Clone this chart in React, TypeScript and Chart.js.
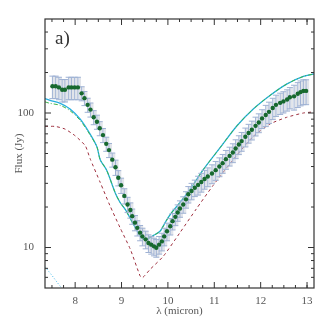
import React, { useEffect, useRef } from "react";
import { Chart, registerables } from "chart.js";

Chart.register(...registerables);

// Observed spectrum (micron, Jy) and relative errors
const obsWave = [
  7.51, 7.58, 7.65, 7.72, 7.78, 7.86, 7.92, 7.99, 8.06, 8.14,
  8.2, 8.27, 8.33, 8.4, 8.47, 8.53, 8.6, 8.67, 8.73, 8.8,
  8.87, 8.93, 8.99, 9.06, 9.13, 9.19, 9.23, 9.29, 9.34, 9.4,
  9.45, 9.52, 9.58, 9.64, 9.7, 9.75, 9.81, 9.87, 9.92, 9.98,
  10.05, 10.1, 10.16, 10.21, 10.26, 10.33, 10.39, 10.44, 10.51, 10.58,
  10.65, 10.72, 10.79, 10.86, 10.95, 11.03, 11.11, 11.18, 11.25, 11.33,
  11.4, 11.46, 11.53, 11.59, 11.67, 11.74, 11.81, 11.89, 11.96, 12.03,
  12.11, 12.18, 12.26, 12.33, 12.42, 12.49, 12.57, 12.63, 12.72, 12.8,
  12.86, 12.92, 12.98,
];
const obsFlux = [
  158, 158, 155, 149, 149, 155, 155, 155, 155, 140,
  129, 115, 106, 93, 86, 77, 68.5, 59, 53, 45,
  39.5, 33, 29, 24.2, 20.9, 19.0, 17.1, 15.3, 14.0, 12.9,
  12.1, 11.5, 10.8, 10.5, 10.2, 9.96, 10.5, 11.1, 12.1, 13.2,
  14.4, 15.7, 16.9, 18.2, 19.5, 20.9, 22.8, 24.9, 26.3, 27.8,
  29.2, 30.7, 32.3, 33.7, 35.5, 37.6, 40, 42.4, 45.4, 48,
  50.9, 54.5, 58.4, 61.8, 66.6, 71, 75, 80.3, 85, 91.2,
  96.6, 102, 109, 115, 119, 122, 126, 131, 133, 139,
  143, 146, 146,
];
const obsRelErr = [
  0.19, 0.19, 0.19, 0.19, 0.19, 0.19, 0.19, 0.19, 0.19, 0.12,
  0.12, 0.12, 0.12, 0.12, 0.12, 0.12, 0.12, 0.12, 0.12, 0.12,
  0.13, 0.13, 0.13, 0.13, 0.13, 0.13, 0.13, 0.13, 0.13, 0.13,
  0.15, 0.15, 0.15, 0.15, 0.15, 0.15, 0.15, 0.15, 0.15, 0.15,
  0.14, 0.14, 0.14, 0.14, 0.14, 0.14, 0.14, 0.14, 0.14, 0.14,
  0.16, 0.16, 0.16, 0.16, 0.16, 0.16, 0.16, 0.16, 0.16, 0.16,
  0.16, 0.16, 0.16, 0.16, 0.16, 0.16, 0.16, 0.16, 0.16, 0.16,
  0.18, 0.18, 0.18, 0.18, 0.18, 0.18, 0.18, 0.18, 0.21, 0.21,
  0.21, 0.21, 0.21,
];

// Model curves
const cyanWave = [7.35, 7.46, 7.68, 7.89, 8.11, 8.32, 8.47, 8.54, 8.68, 8.86, 8.97, 9.08, 9.22, 9.36, 9.44, 9.55, 9.69, 9.83, 9.94, 10.05, 10.26, 10.48, 10.77, 11.13, 11.49, 11.84, 12.2, 12.56, 12.92, 13.15];
const cyanFlux = [128, 124, 118, 107, 90, 70, 56, 45, 37.5, 25.7, 21.6, 19.2, 15.7, 12.9, 11.8, 11.6, 12.3, 13.2, 15.3, 17.6, 21.6, 27.1, 38.2, 55.5, 80.4, 107, 135, 164, 187, 195];
const greenWave = [7.35, 7.46, 7.68, 7.89, 8.11, 8.32, 8.47, 8.54, 8.68, 8.86, 8.97, 9.08, 9.22, 9.36, 9.44, 9.55, 9.69, 9.83, 9.94, 10.05, 10.26, 10.48, 10.77, 11.13, 11.49, 11.84, 12.2, 12.56, 12.92, 13.15];
const greenFlux = [121, 118, 114, 104, 88, 69, 56, 45, 37.5, 25.7, 21.6, 19.2, 15.7, 12.9, 11.8, 11.6, 12.3, 13.2, 15.3, 17.6, 21.6, 27.1, 38.2, 55.5, 80.4, 107, 135, 164, 187, 195];
const redWave = [7.35, 7.57, 7.78, 8.0, 8.22, 8.32, 8.54, 8.75, 8.97, 9.19, 9.4, 9.45, 9.62, 9.9, 10.26, 10.61, 10.97, 11.45, 11.84, 12.2, 12.56, 12.92, 13.15];
const redFlux = [79.5, 79.5, 76, 67.7, 57, 46, 30.5, 20.5, 14, 9.7, 6.15, 5.95, 6.9, 8.6, 12.9, 19.3, 28.8, 47, 67, 82.8, 92.9, 100, 102];
const dotWave = [7.35, 7.5, 7.65, 7.75];
const dotFlux = [7.2, 6.2, 5.3, 4.8];

// Axis ticks
const xMajor = [8, 9, 10, 11, 12, 13];
const xMinor = [7.5, 7.75, 8.25, 8.5, 8.75, 9.25, 9.5, 9.75, 10.25, 10.5, 10.75, 11.25, 11.5, 11.75, 12.25, 12.5, 12.75, 13];
const yMajor = [10, 100];
const yMinor = [6, 7, 8, 9, 20, 30, 40, 50, 60, 70, 80, 90, 200, 300, 400];

const FONT = "'Liberation Serif', 'DejaVu Serif', serif";

const pts = (xs: number[], ys: number[]) => xs.map((x, i) => ({ x, y: ys[i] }));

const errorBarPlugin = {
  id: "errorBars",
  beforeDatasetDraw(chart: any, args: any) {
    if (args.index !== 0) return;
    const { ctx, chartArea } = chart;
    const xs = chart.scales.x;
    const ys = chart.scales.y;
    ctx.save();
    ctx.beginPath();
    ctx.rect(chartArea.left, chartArea.top, chartArea.right - chartArea.left, chartArea.bottom - chartArea.top);
    ctx.clip();
    obsWave.forEach((w, i) => {
      const f = obsFlux[i];
      const e = f * obsRelErr[i];
      const px = xs.getPixelForValue(w);
      const pTop = ys.getPixelForValue(f + e);
      const pBot = ys.getPixelForValue(f - e);
      ctx.strokeStyle = "rgba(200,206,216,0.55)";
      ctx.lineWidth = 2.5;
      ctx.beginPath();
      ctx.moveTo(px + 1.8, pTop);
      ctx.lineTo(px + 1.8, pBot);
      ctx.stroke();
      ctx.strokeStyle = "#9fb2d4";
      ctx.lineWidth = 1;
      ctx.beginPath();
      ctx.moveTo(px, pTop);
      ctx.lineTo(px, pBot);
      ctx.moveTo(px - 3, pTop);
      ctx.lineTo(px + 3, pTop);
      ctx.moveTo(px - 3, pBot);
      ctx.lineTo(px + 3, pBot);
      ctx.stroke();
    });
    ctx.restore();
  },
};

const framePlugin = {
  id: "frame",
  afterDraw(chart: any) {
    const { ctx, chartArea } = chart;
    const { left, right, top, bottom } = chartArea;
    const xs = chart.scales.x;
    const ys = chart.scales.y;
    ctx.save();
    ctx.strokeStyle = "#333";
    ctx.lineWidth = 1.2;
    ctx.strokeRect(left, top, right - left, bottom - top);
    ctx.lineWidth = 1;
    ctx.beginPath();
    const xt = (v: number, len: number) => {
      const p = xs.getPixelForValue(v);
      ctx.moveTo(p, bottom);
      ctx.lineTo(p, bottom - len);
      ctx.moveTo(p, top);
      ctx.lineTo(p, top + len);
    };
    const yt = (v: number, len: number) => {
      const p = ys.getPixelForValue(v);
      ctx.moveTo(left, p);
      ctx.lineTo(left + len, p);
      ctx.moveTo(right, p);
      ctx.lineTo(right - len, p);
    };
    xMajor.forEach((v) => xt(v, 6));
    xMinor.forEach((v) => xt(v, 3));
    yMajor.forEach((v) => yt(v, 6));
    yMinor.forEach((v) => yt(v, 3));
    ctx.stroke();
    ctx.fillStyle = "#333";
    ctx.font = `19px ${FONT}`;
    ctx.textBaseline = "alphabetic";
    ctx.fillText("a)", left + 10, top + 25);
    ctx.restore();
  },
};

export default function App() {
  const ref = useRef<HTMLCanvasElement | null>(null);
  useEffect(() => {
    if (!ref.current) return;
    const chart = new Chart(ref.current, {
      type: "scatter",
      data: {
        datasets: [
          {
            label: "observed",
            data: pts(obsWave, obsFlux),
            showLine: false,
            pointRadius: 2.2,
            pointBackgroundColor: "#17692f",
            pointBorderColor: "#17692f",
            pointBorderWidth: 0,
          },
          {
            label: "green",
            data: pts(greenWave, greenFlux),
            showLine: true,
            pointRadius: 0,
            borderColor: "#3cb54a",
            borderWidth: 1,
            borderDash: [4, 2, 1, 2],
            tension: 0.3,
          },
          {
            label: "cyan",
            data: pts(cyanWave, cyanFlux),
            showLine: true,
            pointRadius: 0,
            borderColor: "#26aee0",
            borderWidth: 1.3,
            tension: 0.3,
          },
          {
            label: "red",
            data: pts(redWave, redFlux),
            showLine: true,
            pointRadius: 0,
            borderColor: "#9e2f3e",
            borderWidth: 1,
            borderDash: [3, 3],
            tension: 0.2,
          },
          {
            label: "dotted",
            data: pts(dotWave, dotFlux),
            showLine: true,
            pointRadius: 0,
            borderColor: "#3ab6e6",
            borderWidth: 1,
            borderDash: [1, 2],
          },
        ],
      },
      options: {
        responsive: false,
        animation: false,
        events: [],
        layout: { padding: { top: 19, right: 13, left: 0, bottom: 0 } },
        plugins: { legend: { display: false }, tooltip: { enabled: false } },
        scales: {
          x: {
            type: "linear",
            min: 7.35,
            max: 13.15,
            grid: { display: false },
            border: { display: false },
            afterBuildTicks: (s: any) => {
              s.ticks = xMajor.map((v) => ({ value: v }));
            },
            afterFit: (s: any) => {
              s.height = 39;
            },
            ticks: {
              autoSkip: false,
              maxRotation: 0,
              padding: -1,
              color: "#555",
              font: { family: FONT, size: 11 },
              callback: (v: any) => String(v),
            },
            title: {
              display: true,
              text: "λ (micron)",
              color: "#555",
              font: { family: FONT, size: 11 },
              padding: { top: 0, bottom: 9 },
            },
          },
          y: {
            type: "logarithmic",
            min: 5,
            max: 500,
            grid: { display: false },
            border: { display: false },
            afterBuildTicks: (s: any) => {
              s.ticks = yMajor.map((v) => ({ value: v }));
            },
            afterFit: (s: any) => {
              s.width = 45;
            },
            ticks: {
              autoSkip: false,
              padding: 3,
              color: "#555",
              font: { family: FONT, size: 11 },
              callback: (v: any) => String(v),
            },
            title: {
              display: true,
              text: "Flux (Jy)",
              color: "#555",
              font: { family: FONT, size: 11 },
              padding: { top: 13, bottom: 0 },
            },
          },
        },
      },
      plugins: [errorBarPlugin, framePlugin],
    } as any);
    return () => chart.destroy();
  }, []);
  return (
    <div style={{ position: "fixed", left: 0, top: 0, width: 327, height: 327, background: "#fff" }}>
      <canvas ref={ref} width={327} height={327} style={{ display: "block" }} />
    </div>
  );
}
